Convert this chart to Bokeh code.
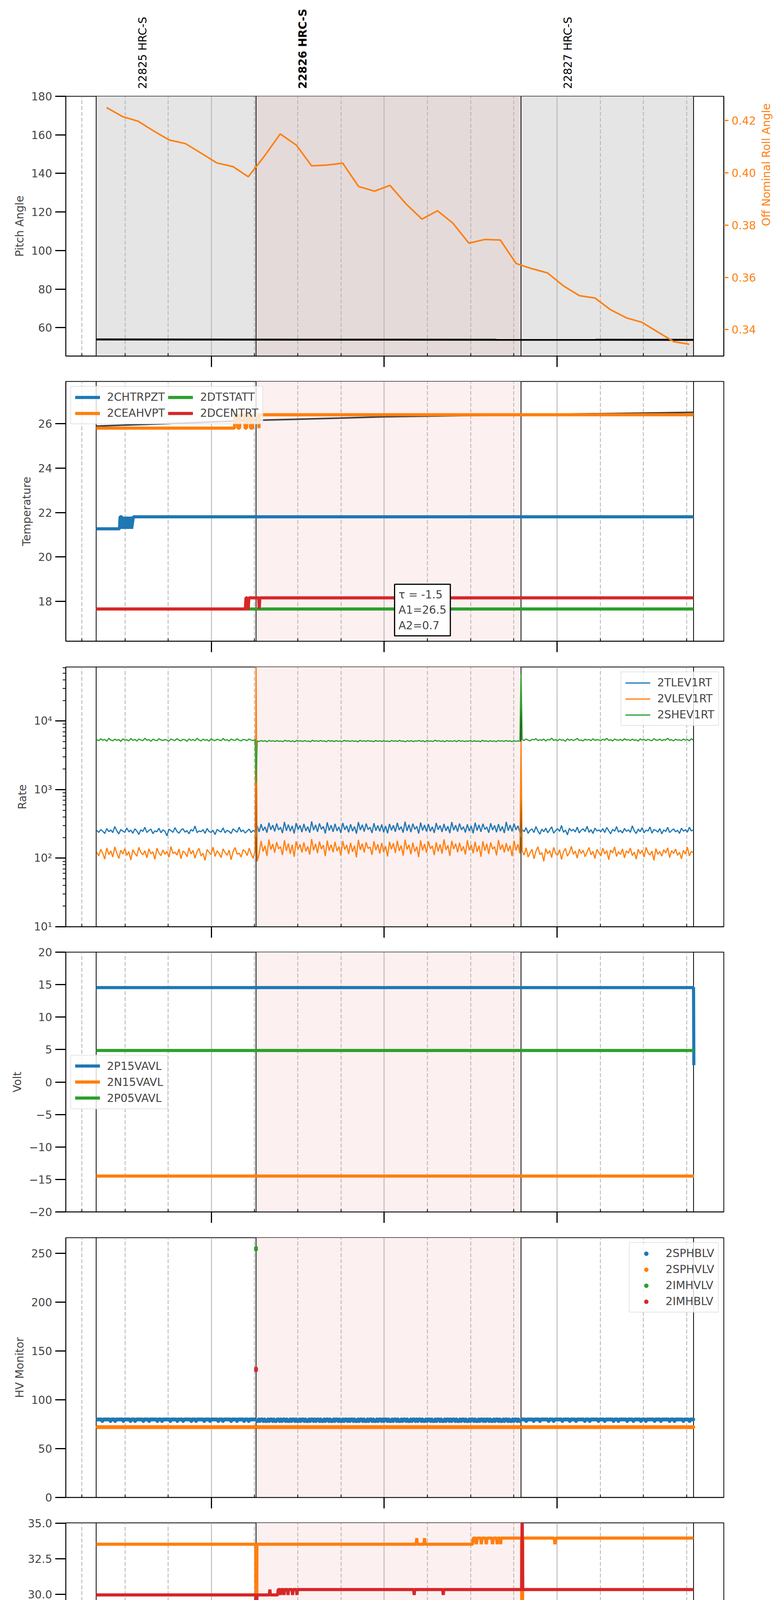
import math
import numpy as np
from bokeh.plotting import figure
from bokeh.layouts import column
from bokeh.core.properties import value
from bokeh.models import (Range1d, LinearAxis, FixedTicker, CustomJSTickFormatter,
                          NumeralTickFormatter, Grid, Span, Label, Legend, LegendItem,
                          BoxAnnotation, ColumnDataSource, CustomLabelingPolicy)
from bokeh.embed import file_html
from bokeh.resources import INLINE

# all times are minutes after 2020-07-06 04:00
X_START, X_END = 9.45, 237.9
QUARTERS = [15, 30, 45, 75, 90, 105, 135, 150, 165, 195, 210, 225]
HOURS = [60, 120, 180]

obs_names = ["22825 HRC-S", "22826 HRC-S", "22827 HRC-S"]
obs_start = [20.0, 75.5, 167.5]
obs_stop = [75.5, 167.5, 227.4]
obs_label_t = [36.2, 91.7, 183.8]
current_obs = 1

# --- pitch / roll
roll_t = [23.6, 29.2, 34.5, 39.7, 45.3, 51.0, 56.5, 61.9, 67.5, 72.8, 78.4, 83.9, 89.5,
          94.8, 100.2, 105.6, 111.1, 116.6, 122.0, 127.6, 133.1, 138.5, 143.8, 149.4,
          154.9, 160.3, 165.8, 171.4, 176.7, 182.3, 187.8, 193.2, 198.6, 204.1, 209.5,
          215.0, 220.6, 225.9]
roll_v = [0.4250, 0.4215, 0.4198, 0.4162, 0.4126, 0.4112, 0.4075, 0.4038, 0.4024, 0.3985,
          0.4064, 0.4149, 0.4106, 0.4027, 0.4030, 0.4037, 0.3948, 0.3930, 0.3952, 0.3881,
          0.3823, 0.3855, 0.3808, 0.3731, 0.3745, 0.3743, 0.3653, 0.3633, 0.3617, 0.3567,
          0.3530, 0.3521, 0.3476, 0.3445, 0.3428, 0.3391, 0.3354, 0.3344]
pitch_t = [20.0, 227.4]
pitch_v = [53.9, 53.7]

# --- temperature
temp_fit = [(20.0, 25.89), (45.0, 26.00), (75.0, 26.15), (105.0, 26.25), (120.0, 26.31),
            (167.5, 26.40), (227.4, 26.51)]
temp_chtrpzt = [(20.0, 21.27), (28.1, 21.27), (28.3, 21.81), (28.9, 21.81), (29.1, 21.27),
                (29.7, 21.81), (29.9, 21.27), (30.5, 21.81), (30.7, 21.27), (31.3, 21.81),
                (31.5, 21.27), (32.1, 21.81), (32.3, 21.27), (32.9, 21.81), (227.4, 21.81)]
temp_ceahvpt = [(20.0, 25.80), (68.0, 25.80), (68.2, 26.40), (69.0, 26.40), (69.2, 25.80),
                (69.8, 25.80), (70.0, 26.40), (71.5, 26.40), (71.7, 25.80), (72.2, 25.80),
                (72.4, 26.40), (73.4, 26.40), (73.6, 25.80), (74.3, 25.80), (74.5, 26.40),
                (76.3, 26.40), (76.5, 25.80), (76.7, 26.40), (227.4, 26.40)]
temp_dtstatt = [(20.0, 17.66), (227.4, 17.66)]
temp_dcentrt = [(20.0, 17.66), (71.8, 17.66), (72.0, 18.16), (72.4, 18.16), (72.6, 17.66),
                (72.8, 17.66), (73.0, 18.16), (76.4, 18.16), (76.6, 17.66), (76.8, 18.16),
                (227.4, 18.16)]
fit_text = "\u03c4 = -1.5\nA1=26.5\nA2=0.7"

# --- rates: samples before the obs, during 22826, after; one spike sample at each edge
rate_seg_t = [(20.2, 75.2), (75.9, 167.1), (167.9, 227.3)]
rate_spike_t = [75.5, 167.5]
tlev_before = [255, 238, 262, 247, 229, 271, 244, 258, 236, 290, 251, 226, 263, 248, 239, 276,
               242, 257, 231, 268, 249, 222, 260, 245, 283, 237, 254, 266, 228, 251, 243, 274,
               235, 259, 247, 212, 265, 252, 238, 279, 246, 231, 257, 269, 240, 253, 227, 262,
               248, 295, 236, 250, 244, 261, 230, 272, 245, 238, 256, 221, 263, 249, 241, 277,
               234, 255, 246, 229, 268, 252, 239, 284, 243, 258, 233, 249, 266, 237, 254, 245]
tlev_during = [298, 241, 315, 252, 287, 236, 329, 260, 304, 245, 321, 258, 283, 232, 338, 251,
               309, 247, 296, 229, 325, 262, 301, 240, 317, 249, 289, 235, 344, 256, 306, 243,
               322, 264, 291, 230, 334, 253, 303, 242, 318, 250, 286, 234, 327, 259, 297, 238,
               313, 248, 290, 228, 336, 257, 307, 244, 320, 261, 284, 233, 324, 252, 300, 246,
               311, 239, 294, 231, 316, 255, 302, 243, 328, 258, 289, 236, 341, 250, 308, 240,
               319, 263, 292, 229, 331, 254, 305, 245, 314, 247, 287, 234, 326, 260, 299, 241,
               317, 251, 293, 232, 337, 256, 303, 244, 321, 259, 288, 237, 312, 249, 296, 230,
               330, 253, 306, 242, 318, 262, 285, 235, 323, 257, 301, 239, 315, 248, 291, 233,
               339, 252, 304, 246, 320, 258, 297, 240]
tlev_after = [262, 244, 279, 230, 255, 268, 237, 290, 248, 224, 266, 243, 275, 235, 259, 287,
              232, 252, 270, 246, 300, 238, 257, 219, 273, 249, 263, 241, 284, 233, 256, 268,
              245, 292, 238, 261, 229, 275, 250, 258, 243, 270, 236, 281, 252, 227, 264, 247,
              289, 240, 255, 233, 272, 246, 260, 238, 297, 251, 229, 266, 244, 278, 235, 257,
              249, 286, 231, 262, 254, 240, 271, 226, 259, 245, 282, 237, 253, 268, 242, 256,
              230, 274, 248, 261, 239, 283, 250, 258]
tlev_spikes = [205, 205]
vlev_before = [122, 108, 135, 117, 97, 141, 113, 128, 104, 146, 119, 99, 131, 115, 138, 110,
               125, 94, 133, 118, 107, 144, 121, 112, 129, 101, 137, 116, 124, 96, 140, 119,
               109, 132, 114, 126, 103, 148, 117, 123, 111, 136, 98, 127, 120, 105, 142, 115,
               130, 100, 124, 139, 108, 118, 93, 134, 122, 113, 145, 106, 128, 117, 102, 137,
               121, 110, 131, 95, 125, 143, 114, 119, 104, 133, 126, 109, 140, 116, 99, 129]
vlev_during = [90, 117, 179, 125, 151, 108, 187, 133, 161, 120, 172, 137, 147, 111, 183, 128,
               164, 116, 157, 105, 176, 134, 159, 121, 170, 126, 149, 113, 190, 130, 162, 118,
               175, 136, 155, 107, 181, 129, 158, 122, 173, 127, 148, 110, 178, 133, 156, 115,
               168, 124, 152, 103, 185, 132, 163, 121, 171, 138, 146, 112, 177, 131, 160, 117,
               167, 123, 150, 106, 174, 135, 165, 119, 180, 128, 153, 109, 186, 134, 157, 114,
               169, 125, 147, 104, 182, 130, 161, 120, 176, 137, 151, 111, 171, 126, 159, 116,
               188, 132, 154, 108, 179, 136, 163, 122, 168, 127, 149, 113, 183, 131, 156, 118,
               174, 124, 152, 105, 177, 129, 162, 115, 170, 135, 148, 110, 184, 133, 158, 121,
               166, 126, 153, 107, 180, 130, 160, 117]
vlev_after = [128, 111, 142, 104, 119, 135, 98, 126, 147, 113, 121, 90, 138, 116, 129, 102,
              144, 118, 110, 133, 96, 124, 139, 107, 120, 149, 114, 127, 100, 136, 117, 131,
              105, 123, 143, 112, 126, 99, 134, 121, 108, 140, 115, 129, 95, 132, 119, 146,
              106, 125, 113, 137, 101, 128, 118, 141, 109, 123, 97, 135, 116, 130, 104, 144,
              120, 111, 127, 93, 138, 114, 125, 107, 133, 119, 142, 102, 129, 117, 136, 110,
              122, 98, 131, 115, 145, 108, 126, 119]
vlev_spikes = [90000, 5000]
shev_before = [5350, 5180, 5520, 5240, 5410, 5100, 5600, 5290, 5170, 5460, 5230, 5380, 5050,
               5510, 5270, 5330, 5140, 5570, 5220, 5400, 5120, 5480, 5300, 5190, 5620, 5250,
               5360, 5080, 5440, 5280, 5160, 5530, 5310, 5210, 5390, 5260, 5110, 5470, 5320,
               5200, 5550, 5270, 5150, 5420, 5340, 5060, 5490, 5230, 5380, 5170, 5600, 5290,
               5130, 5450, 5250, 5360, 5090, 5510, 5280, 5190, 5430, 5320, 5160, 5580, 5240,
               5370, 5110, 5460, 5300, 5210, 5520, 5260, 5140, 5410, 5330, 5180, 5490, 5270,
               5220, 5350]
shev_during = [5150, 5020, 5210, 5060, 5180, 4990, 5230, 5080, 5160, 5040, 5200, 5070, 5130,
               5010, 5240, 5090, 5170, 5030, 5140, 4980, 5220, 5100, 5150, 5050, 5190, 5060,
               5120, 5000, 5250, 5080, 5160, 5040, 5210, 5090, 5140, 4990, 5230, 5070, 5170,
               5030, 5200, 5060, 5130, 5020, 5220, 5100, 5150, 5040, 5180, 5070, 5140, 4970,
               5240, 5080, 5160, 5050, 5190, 5100, 5120, 5010, 5210, 5070, 5160, 5030, 5170,
               5060, 5130, 5000, 5200, 5090, 5150, 5040, 5230, 5080, 5120, 4990, 5190, 5060,
               5170, 5020, 5140, 5100, 5210, 5050, 5160, 4980, 5220, 5070, 5130, 5030, 5250,
               5090, 5180, 5040, 5150, 5010, 5200, 5080, 5140, 5060, 5190, 5000, 5230, 5070,
               5160, 5040, 5120, 5090, 5210, 5020, 5170, 5050, 5140, 4990, 5240, 5080, 5150,
               5030, 5180, 5060, 5130, 5010, 5200, 5090, 5160, 5040, 5220, 5070, 5150, 5020,
               5190, 5060, 5140, 5080]
shev_after = [5380, 5210, 5490, 5260, 5150, 5420, 5320, 5560, 5190, 5350, 5240, 5470, 5110,
              5400, 5290, 5630, 5220, 5370, 5180, 5450, 5270, 5330, 5090, 5510, 5250, 5410,
              5200, 5360, 5580, 5230, 5300, 5140, 5460, 5280, 5390, 5170, 5520, 5240, 5340,
              5310, 5190, 5440, 5270, 5600, 5220, 5350, 5130, 5480, 5300, 5250, 5410, 5160,
              5530, 5290, 5370, 5200, 5460, 5240, 5320, 5100, 5500, 5280, 5390, 5210, 5430,
              5260, 5170, 5540, 5310, 5230, 5470, 5180, 5360, 5290, 5610, 5250, 5340, 5140,
              5450, 5270, 5320, 5200, 5480, 5260, 5390, 5150, 5510, 5300]
shev_spikes = [1250, 48000]

# --- voltages
volt_p15 = [(20.0, 14.54), (227.4, 14.54), (227.5, 2.6)]
volt_n15 = [(20.0, -14.48), (227.5, -14.48)]
volt_p05 = [(20.0, 4.85), (227.5, 4.85)]

# --- HV monitor: 2SPHBLV reads one of two levels; flag 1 -> high, 0 -> low
hv_seg_t = [(20.5, 75.0), (76.0, 167.0), (168.0, 227.3)]
hv_sphblv_levels = {"1": 79.9, "0": 78.3}
hv_sphblv_before = ("1111011111101110111111011111011101111110111101111110111011111101111101"
                    "11101111110111011111101111011111101110111111011110111110111011111")
hv_sphblv_during = ("0101101001011010011010110100101101001011010010110101101001011010010110"
                    "1001011010110100101101001011010010110101101001011010010110100101101011"
                    "0100101101001011010010110101101001011010010110100101101011010010110100"
                    "101101001011010")
hv_sphblv_after = ("1110111110111101111110111011111101111101111011111101110111111011110111"
                   "11101110111111011110111110111011111101111011111101110111111011110111")
hv_sphvlv_level = 72.0
hv_imhvlv = [(75.5, 253.8), (75.5, 255.6)]
hv_imhblv = [(75.5, 130.2), (75.5, 132.0)]

# --- detector temperatures
det_spinatm = [(20.0, 18.94), (145.7, 18.94), (145.9, 19.61), (146.6, 19.61), (146.8, 18.94),
               (147.3, 18.94), (147.5, 19.61), (148.4, 19.61), (148.6, 18.94), (149.0, 18.94),
               (149.2, 19.61), (150.1, 19.61), (150.3, 18.94), (150.8, 18.94), (151.0, 19.61),
               (151.9, 19.61), (152.1, 18.94), (152.5, 18.94), (152.7, 19.61), (153.6, 19.61),
               (153.8, 18.94), (154.6, 18.94), (154.8, 19.61), (157.6, 19.61), (157.8, 18.94),
               (158.0, 19.61), (167.7, 19.61), (167.9, 16.0), (168.1, 19.61), (227.4, 19.61)]
det_sphvatm = [(20.0, 33.53), (75.4, 33.53), (75.6, 16.0), (75.8, 33.53), (131.1, 33.53),
               (131.3, 33.96), (131.5, 33.53), (133.8, 33.53), (134.0, 33.96), (134.2, 33.53),
               (150.7, 33.53), (150.9, 33.96), (151.8, 33.96), (152.0, 33.53), (152.3, 33.96),
               (153.5, 33.96), (153.7, 33.53), (154.0, 33.96), (155.2, 33.96), (155.4, 33.53),
               (155.7, 33.96), (157.4, 33.96), (157.6, 33.53), (157.9, 33.96), (159.0, 33.96),
               (159.2, 33.53), (159.4, 33.96), (160.2, 33.96), (160.4, 33.53), (160.6, 33.96),
               (167.7, 33.96), (167.9, 16.0), (168.1, 33.96), (179.0, 33.96), (179.3, 33.53),
               (179.6, 33.96), (227.4, 33.96)]
det_iminatm = [(20.0, 17.63), (59.8, 17.63), (60.0, 18.28), (60.2, 17.63), (66.0, 17.63),
               (66.2, 18.28), (66.4, 17.63), (67.4, 17.63), (67.6, 18.28), (67.8, 17.63),
               (68.6, 17.63), (68.8, 18.28), (69.0, 17.63), (69.8, 17.63), (70.0, 18.28),
               (70.2, 17.63), (71.4, 17.63), (71.6, 18.28), (71.8, 17.63), (72.8, 17.63),
               (73.0, 18.28), (73.2, 17.63), (73.8, 17.63), (74.0, 18.28), (74.2, 17.63),
               (75.4, 17.63), (75.6, 18.28), (76.2, 18.28), (76.4, 17.63), (76.6, 18.28),
               (77.2, 18.28), (77.4, 17.63), (77.6, 18.28), (78.4, 18.28), (78.6, 17.63),
               (78.8, 18.28), (79.6, 18.28), (79.8, 17.63), (80.0, 18.28), (81.2, 18.28),
               (81.4, 17.63), (81.6, 18.28), (86.9, 18.28), (87.1, 17.63), (87.3, 18.28),
               (89.1, 18.28), (89.3, 17.63), (89.5, 18.28), (107.1, 18.28), (107.3, 17.63),
               (107.5, 18.28), (167.7, 18.28), (167.9, 16.0), (168.1, 18.28), (227.4, 18.28)]
det_imhvatm = [(20.0, 29.97), (75.4, 29.97), (75.6, 16.0), (75.8, 29.97), (80.1, 29.97),
               (80.3, 30.35), (80.5, 29.97), (83.0, 29.97), (83.2, 30.35), (83.8, 30.35),
               (84.0, 29.97), (84.2, 30.35), (85.0, 30.35), (85.2, 29.97), (85.4, 30.35),
               (86.4, 30.35), (86.6, 29.97), (86.8, 30.35), (88.0, 30.35), (88.2, 29.97),
               (88.4, 30.35), (89.5, 30.35), (89.7, 29.97), (89.9, 30.35), (130.2, 30.35),
               (130.4, 29.97), (130.6, 30.35), (140.3, 30.35), (140.5, 29.97), (140.7, 30.35),
               (167.7, 30.35), (167.9, 36.0), (168.1, 30.35), (227.4, 30.35)]

# --- FEA temperatures
fea_fhtrmzt = [(20.0, 19.15), (74.0, 19.15), (74.2, 19.72), (74.4, 19.15), (154.0, 19.15),
               (154.2, 18.63), (154.4, 19.15), (227.4, 19.15)]
fea_fradpyt = [(20.0, 14.30), (227.4, 14.30)]
fea_fepratm = [(20.0, 21.69), (75.4, 21.69), (75.6, 24.0), (75.8, 21.69), (167.8, 21.69),
               (168.0, 24.0), (168.2, 21.69), (227.4, 21.69)]
fea_fe00atm = [(20.0, 19.57), (75.8, 19.57), (76.0, 20.82), (76.2, 19.57), (79.0, 19.57),
               (79.2, 19.93), (79.4, 19.57), (82.7, 19.57), (82.9, 19.22), (83.1, 19.57),
               (88.4, 19.57), (88.6, 18.94), (88.8, 19.57), (98.5, 19.57), (98.7, 19.22),
               (98.9, 19.57), (128.8, 19.57), (129.0, 17.76), (129.2, 19.57), (167.0, 19.57),
               (167.2, 19.22), (167.4, 19.57), (168.0, 19.57), (168.2, 12.0), (168.4, 19.57),
               (176.2, 19.57), (176.4, 19.22), (176.6, 19.57), (178.2, 19.57), (178.4, 19.22),
               (178.6, 19.57), (183.4, 19.57), (183.6, 19.22), (183.8, 19.57), (184.1, 19.57),
               (184.3, 19.22), (184.5, 19.57), (187.4, 19.57), (187.6, 19.22), (187.8, 19.57),
               (193.5, 19.57), (193.7, 19.22), (193.9, 19.57), (203.9, 19.57), (204.1, 19.22),
               (204.3, 19.57), (227.4, 19.57)]

C0, C1, C2, C3 = "#1f77b4", "#ff7f0e", "#2ca02c", "#d62728"
FONT = "DejaVu Sans"
FW, FH = 1685, 665
LEFT, RIGHT = 168, 139


def xy(pairs):
    return [a for a, b in pairs], [b for a, b in pairs]


def seg_series(segs, parts, spike_t=None, spikes=None):
    ts, vs = [], []
    for i, ((a, b), v) in enumerate(zip(segs, parts)):
        ts.extend(np.linspace(a, b, len(v)))
        vs.extend(v)
        if spikes is not None and i < len(spikes):
            ts.append(spike_t[i])
            vs.append(spikes[i])
    return ts, vs


def style_axis(ax):
    ax.axis_line_width = 2
    ax.major_tick_line_width = 3
    ax.major_label_text_font = FONT
    ax.major_label_text_font_size = "28px"
    ax.axis_label_text_font = FONT
    ax.axis_label_text_font_size = "28px"
    ax.axis_label_text_font_style = "normal"


def panel(ylabel, y0, y1, top, bottom, log=False, last=False, yticks=None):
    p = figure(frame_width=FW, frame_height=FH, x_range=Range1d(X_START, X_END),
               y_range=Range1d(y0, y1), y_axis_type="log" if log else "linear",
               x_axis_location=None, output_backend="svg", toolbar_location=None,
               min_border_left=LEFT, min_border_right=RIGHT, min_border_top=top,
               min_border_bottom=bottom)
    p.outline_line_color = "black"
    p.outline_line_width = 2
    p.outline_line_alpha = 1
    p.xgrid.visible = False
    p.ygrid.visible = False
    p.add_layout(Grid(dimension=0, ticker=FixedTicker(ticks=QUARTERS),
                      grid_line_color="#b0b0b0", grid_line_width=2, grid_line_dash="10 5"))
    p.add_layout(Grid(dimension=0, ticker=FixedTicker(ticks=HOURS),
                      grid_line_color="#b0b0b0", grid_line_width=2))

    ya = p.yaxis[0]
    style_axis(ya)
    ya.axis_label = ylabel
    ya.major_tick_out = 27
    ya.major_tick_in = 0
    ya.major_label_standoff = 8
    ya.axis_label_standoff = 10
    if yticks is not None:
        ya.ticker = FixedTicker(ticks=yticks)
    if log:
        ya.minor_tick_out = 8
        ya.minor_tick_in = 0
        ya.minor_tick_line_width = 2
    else:
        ya.minor_tick_line_color = None

    xa = LinearAxis(ticker=FixedTicker(ticks=QUARTERS, minor_ticks=HOURS),
                    formatter=CustomJSTickFormatter(
                        code="return String(tick % 60)" if last else "return ''"))
    style_axis(xa)
    xa.major_tick_in = 7
    xa.major_tick_out = 0
    xa.major_tick_line_width = 2
    xa.minor_tick_in = 0
    xa.minor_tick_out = 28
    xa.minor_tick_line_width = 3
    xa.minor_tick_line_color = "black"
    xa.major_label_standoff = 4
    if last:
        xa.major_label_text_font_size = "20px"
    else:
        # panels above the last one show ticks only
        xa.major_label_policy = CustomLabelingPolicy(
            code="for (const i of indices) indices.unset(i)")
        xa.major_label_text_font_size = "1px"
        xa.major_label_standoff = 0
    p.add_layout(xa, "below")
    if last:
        xh = LinearAxis(ticker=FixedTicker(ticks=HOURS),
                        formatter=CustomJSTickFormatter(code="return '0' + (4 + tick / 60) + 'h'"))
        style_axis(xh)
        xh.axis_line_color = None
        xh.major_tick_line_color = None
        xh.minor_tick_line_color = None
        xh.major_tick_in = 0
        xh.major_tick_out = 0
        xh.major_label_standoff = 7
        xh.axis_label = "2020-07-06 (188)"
        xh.axis_label_text_font_size = "30px"
        xh.axis_label_standoff = 3
        p.add_layout(xh, "below")

    for t in sorted(set(obs_start + obs_stop)):
        p.add_layout(Span(location=t, dimension="height", line_color="black",
                          line_width=2, level="underlay"))
    return p


def shade_lower(p):
    p.add_layout(BoxAnnotation(left=obs_start[current_obs], right=obs_stop[current_obs],
                               fill_color="#fdf0f0", fill_alpha=1, line_color=None,
                               level="image"))


def legend(p, items, loc, ncols=1):
    lg = Legend(items=[LegendItem(label=l, renderers=[r]) for l, r in items],
                location=loc, ncols=ncols)
    lg.label_text_font = FONT
    lg.label_text_font_size = "28px"
    lg.glyph_width = 64
    lg.glyph_height = 26
    lg.label_standoff = 18
    lg.spacing = 8
    lg.padding = 10
    lg.margin = 12
    lg.border_line_color = "#cccccc"
    lg.border_line_width = 2
    lg.background_fill_alpha = 0.8
    p.add_layout(lg)


# ---------------- obsid labels above the first panel
p0 = figure(frame_width=FW, frame_height=230, x_range=Range1d(X_START, X_END),
            y_range=Range1d(0, 230), x_axis_location=None, y_axis_location=None,
            output_backend="svg", toolbar_location=None, min_border_left=LEFT,
            min_border_right=RIGHT, min_border_top=0, min_border_bottom=0)
p0.outline_line_color = None
p0.xgrid.visible = False
p0.ygrid.visible = False
lab_src = ColumnDataSource(dict(x=obs_label_t, y=[3] * len(obs_names), text=obs_names,
                                style=["bold" if i == current_obs else "normal"
                                       for i in range(len(obs_names))]))
p0.text(x="x", y="y", text="text", source=lab_src, angle=90, angle_units="deg",
        text_align="left", text_baseline="middle", text_font=value(FONT),
        text_font_size="28px", text_font_style="style", text_color="black")

# ---------------- panel 1: pitch / roll
p1 = panel("Pitch Angle", 45.3, 180, 16, 35, yticks=[60, 80, 100, 120, 140, 160, 180])
p1.add_layout(BoxAnnotation(left=obs_start[0], right=obs_stop[-1], fill_color="#e5e5e5",
                            fill_alpha=1, line_color=None, level="image"))
p1.add_layout(BoxAnnotation(left=obs_start[current_obs], right=obs_stop[current_obs],
                            fill_color="#e5dada", fill_alpha=1, line_color=None, level="image"))
p1.extra_y_ranges = {"roll": Range1d(0.3299, 0.4293)}
ra = LinearAxis(y_range_name="roll", ticker=FixedTicker(ticks=[0.34, 0.36, 0.38, 0.40, 0.42]),
                formatter=NumeralTickFormatter(format="0.00"))
style_axis(ra)
ra.axis_label = "Off Nominal Roll Angle"
ra.axis_label_orientation = math.pi / 2
ra.axis_label_text_color = C1
ra.major_label_text_color = C1
ra.major_tick_line_color = C1
ra.major_tick_out = 12
ra.major_tick_in = 0
ra.minor_tick_line_color = None
ra.major_label_standoff = 8
ra.axis_label_standoff = 24
p1.add_layout(ra, "right")
p1.line(pitch_t, pitch_v, line_color="black", line_width=5)
p1.line(roll_t, roll_v, line_color=C1, line_width=4, y_range_name="roll")

# ---------------- panel 2: temperature
p2 = panel("Temperature", 16.21, 27.9, 30, 35, yticks=[18, 20, 22, 24, 26])
shade_lower(p2)
p2.line(*xy(temp_fit), line_color="#404040", line_width=4)
r_a = p2.line(*xy(temp_chtrpzt), line_color=C0, line_width=8)
r_b = p2.line(*xy(temp_ceahvpt), line_color=C1, line_width=8)
r_c = p2.line(*xy(temp_dtstatt), line_color=C2, line_width=8)
r_d = p2.line(*xy(temp_dcentrt), line_color=C3, line_width=8)
legend(p2, [("2CHTRPZT", r_a), ("2CEAHVPT", r_b), ("2DTSTATT", r_c), ("2DCENTRT", r_d)],
       "top_left", ncols=2)
p2.add_layout(Label(x=123.6, y=16.45, text=fit_text, text_font=FONT, text_font_size="28px",
                    text_align="left", text_baseline="bottom", border_line_color="black",
                    border_line_width=3, background_fill_color="white",
                    background_fill_alpha=1, padding=10))

# ---------------- panel 3: rates
p3 = panel("Rate", 10, 61500, 31, 35, log=True)
shade_lower(p3)
p3.yaxis[0].formatter = CustomJSTickFormatter(
    code="const s='\u2070\u00b9\u00b2\u00b3\u2074\u2075\u2076\u2077\u2078\u2079';"
         "return '10' + s[Math.round(Math.log10(tick))];")
r_a = p3.line(*seg_series(rate_seg_t, [tlev_before, tlev_during, tlev_after],
                          rate_spike_t, tlev_spikes), line_color=C0, line_width=3)
r_b = p3.line(*seg_series(rate_seg_t, [vlev_before, vlev_during, vlev_after],
                          rate_spike_t, vlev_spikes), line_color=C1, line_width=3)
r_c = p3.line(*seg_series(rate_seg_t, [shev_before, shev_during, shev_after],
                          rate_spike_t, shev_spikes), line_color=C2, line_width=3)
legend(p3, [("2TLEV1RT", r_a), ("2VLEV1RT", r_b), ("2SHEV1RT", r_c)], "top_right")

# ---------------- panel 4: volt
p4 = panel("Volt", -20, 20, 30, 35, yticks=[-20, -15, -10, -5, 0, 5, 10, 15, 20])
shade_lower(p4)
p4.yaxis[0].formatter = CustomJSTickFormatter(
    code="return tick < 0 ? '\u2212' + Math.abs(tick) : String(tick);")
r_a = p4.line(*xy(volt_p15), line_color=C0, line_width=8)
r_b = p4.line(*xy(volt_n15), line_color=C1, line_width=8)
r_c = p4.line(*xy(volt_p05), line_color=C2, line_width=8)
legend(p4, [("2P15VAVL", r_a), ("2N15VAVL", r_b), ("2P05VAVL", r_c)], "center_left")

# ---------------- panel 5: HV monitor
p5 = panel("HV Monitor", 0, 266, 31, 35, yticks=[0, 50, 100, 150, 200, 250])
shade_lower(p5)
hv_parts = [[hv_sphblv_levels[c] for c in s]
            for s in (hv_sphblv_before, hv_sphblv_during, hv_sphblv_after)]
hv_t, hv_blue = seg_series(hv_seg_t, hv_parts)
r_a = p5.scatter(hv_t, hv_blue, size=9, color=C0)
r_b = p5.scatter(hv_t, np.full(len(hv_t), hv_sphvlv_level), size=9, color=C1)
r_c = p5.scatter(*xy(hv_imhvlv), size=9, color=C2)
r_d = p5.scatter(*xy(hv_imhblv), size=9, color=C3)
legend(p5, [("2SPHBLV", r_a), ("2SPHVLV", r_b), ("2IMHVLV", r_c), ("2IMHBLV", r_d)],
       "top_right")

# ---------------- panel 6: detector temp
p6 = panel("Detector Temp", 16.8, 35.03, 30, 35,
           yticks=[17.5, 20.0, 22.5, 25.0, 27.5, 30.0, 32.5, 35.0])
shade_lower(p6)
p6.yaxis[0].formatter = NumeralTickFormatter(format="0.0")
r_a = p6.line(*xy(det_spinatm), line_color=C0, line_width=8)
r_b = p6.line(*xy(det_sphvatm), line_color=C1, line_width=8)
r_c = p6.line(*xy(det_iminatm), line_color=C2, line_width=8)
r_d = p6.line(*xy(det_imhvatm), line_color=C3, line_width=8)
legend(p6, [("2SPINATM", r_a), ("2SPHVATM", r_b), ("2IMINATM", r_c), ("2IMHVATM", r_d)],
       "center_right")

# ---------------- panel 7: FEA temp
p7 = panel("FEA Temp", 12.8, 23.19, 31, 60, last=True, yticks=[14, 16, 18, 20, 22])
shade_lower(p7)
r_a = p7.line(*xy(fea_fhtrmzt), line_color=C0, line_width=8)
r_b = p7.line(*xy(fea_fradpyt), line_color=C1, line_width=8)
r_c = p7.line(*xy(fea_fepratm), line_color=C2, line_width=8)
r_d = p7.line(*xy(fea_fe00atm), line_color=C3, line_width=8)
legend(p7, [("2FHTRMZT", r_a), ("2FRADPYT", r_b), ("2FEPRATM", r_c), ("2FE00ATM", r_d)],
       "top_right")

layout = column(p0, p1, p2, p3, p4, p5, p6, p7)
open("out.html", "w").write(file_html(layout, INLINE))
